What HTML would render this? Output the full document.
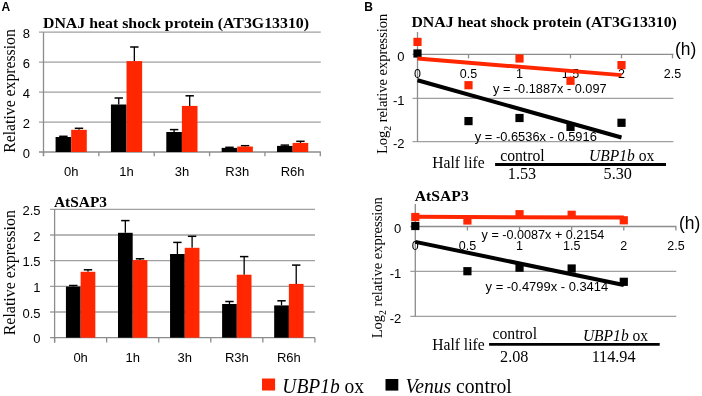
<!DOCTYPE html>
<html><head><meta charset="utf-8"><style>
html,body{margin:0;padding:0;background:#fff;}
body{width:702px;height:396px;overflow:hidden;}
svg{display:block;filter:blur(0.3px);}
</style></head><body>
<svg width="702" height="396" viewBox="0 0 702 396">
<rect width="702" height="396" fill="#fff"/>
<text x="1.60" y="10.80" font-family="'Liberation Sans', sans-serif" font-size="12" text-anchor="start" font-weight="bold" font-style="normal" fill="#000">A</text>
<text x="364.20" y="10.80" font-family="'Liberation Sans', sans-serif" font-size="12" text-anchor="start" font-weight="bold" font-style="normal" fill="#000">B</text>
<line x1="39.00" y1="32.20" x2="320.80" y2="32.20" stroke="#A0A0A0" stroke-width="1.3"/>
<line x1="39.00" y1="62.20" x2="320.80" y2="62.20" stroke="#A0A0A0" stroke-width="1.3"/>
<line x1="39.00" y1="92.20" x2="320.80" y2="92.20" stroke="#A0A0A0" stroke-width="1.3"/>
<line x1="39.00" y1="122.20" x2="320.80" y2="122.20" stroke="#A0A0A0" stroke-width="1.3"/>
<line x1="39.00" y1="152.00" x2="320.80" y2="152.00" stroke="#8C8C8C" stroke-width="1.3"/>
<line x1="43.50" y1="32.20" x2="43.50" y2="156.20" stroke="#8C8C8C" stroke-width="1.3"/>
<line x1="43.50" y1="152.00" x2="43.50" y2="156.20" stroke="#8C8C8C" stroke-width="1.3"/>
<line x1="98.86" y1="152.00" x2="98.86" y2="156.20" stroke="#8C8C8C" stroke-width="1.3"/>
<line x1="154.22" y1="152.00" x2="154.22" y2="156.20" stroke="#8C8C8C" stroke-width="1.3"/>
<line x1="209.58" y1="152.00" x2="209.58" y2="156.20" stroke="#8C8C8C" stroke-width="1.3"/>
<line x1="264.94" y1="152.00" x2="264.94" y2="156.20" stroke="#8C8C8C" stroke-width="1.3"/>
<line x1="320.30" y1="152.00" x2="320.30" y2="156.20" stroke="#8C8C8C" stroke-width="1.3"/>
<text x="30.00" y="37.80" font-family="'Liberation Sans', sans-serif" font-size="13" text-anchor="end" font-weight="normal" font-style="normal" fill="#000">8</text>
<text x="30.00" y="67.80" font-family="'Liberation Sans', sans-serif" font-size="13" text-anchor="end" font-weight="normal" font-style="normal" fill="#000">6</text>
<text x="30.00" y="97.80" font-family="'Liberation Sans', sans-serif" font-size="13" text-anchor="end" font-weight="normal" font-style="normal" fill="#000">4</text>
<text x="30.00" y="127.80" font-family="'Liberation Sans', sans-serif" font-size="13" text-anchor="end" font-weight="normal" font-style="normal" fill="#000">2</text>
<text x="30.00" y="157.60" font-family="'Liberation Sans', sans-serif" font-size="13" text-anchor="end" font-weight="normal" font-style="normal" fill="#000">0</text>
<line x1="63.38" y1="137.00" x2="63.38" y2="136.30" stroke="#000000" stroke-width="1.3"/>
<line x1="59.18" y1="136.30" x2="67.58" y2="136.30" stroke="#000000" stroke-width="1.5"/>
<rect x="55.58" y="137.00" width="15.60" height="15.00" fill="#000000"/>
<line x1="78.98" y1="129.80" x2="78.98" y2="128.30" stroke="#000000" stroke-width="1.3"/>
<line x1="74.78" y1="128.30" x2="83.18" y2="128.30" stroke="#000000" stroke-width="1.5"/>
<rect x="71.18" y="129.80" width="15.60" height="22.20" fill="#FF2600"/>
<text x="71.18" y="176.20" font-family="'Liberation Sans', sans-serif" font-size="13" text-anchor="middle" font-weight="normal" font-style="normal" fill="#000">0h</text>
<line x1="118.74" y1="104.50" x2="118.74" y2="98.00" stroke="#000000" stroke-width="1.3"/>
<line x1="114.54" y1="98.00" x2="122.94" y2="98.00" stroke="#000000" stroke-width="1.5"/>
<rect x="110.94" y="104.50" width="15.60" height="47.50" fill="#000000"/>
<line x1="134.34" y1="61.10" x2="134.34" y2="47.00" stroke="#000000" stroke-width="1.3"/>
<line x1="130.14" y1="47.00" x2="138.54" y2="47.00" stroke="#000000" stroke-width="1.5"/>
<rect x="126.54" y="61.10" width="15.60" height="90.90" fill="#FF2600"/>
<text x="126.54" y="176.20" font-family="'Liberation Sans', sans-serif" font-size="13" text-anchor="middle" font-weight="normal" font-style="normal" fill="#000">1h</text>
<line x1="174.10" y1="132.00" x2="174.10" y2="129.60" stroke="#000000" stroke-width="1.3"/>
<line x1="169.90" y1="129.60" x2="178.30" y2="129.60" stroke="#000000" stroke-width="1.5"/>
<rect x="166.30" y="132.00" width="15.60" height="20.00" fill="#000000"/>
<line x1="189.70" y1="105.90" x2="189.70" y2="95.80" stroke="#000000" stroke-width="1.3"/>
<line x1="185.50" y1="95.80" x2="193.90" y2="95.80" stroke="#000000" stroke-width="1.5"/>
<rect x="181.90" y="105.90" width="15.60" height="46.10" fill="#FF2600"/>
<text x="181.90" y="176.20" font-family="'Liberation Sans', sans-serif" font-size="13" text-anchor="middle" font-weight="normal" font-style="normal" fill="#000">3h</text>
<line x1="229.46" y1="147.90" x2="229.46" y2="147.30" stroke="#000000" stroke-width="1.3"/>
<line x1="225.26" y1="147.30" x2="233.66" y2="147.30" stroke="#000000" stroke-width="1.5"/>
<rect x="221.66" y="147.90" width="15.60" height="4.10" fill="#000000"/>
<line x1="245.06" y1="146.50" x2="245.06" y2="145.70" stroke="#000000" stroke-width="1.3"/>
<line x1="240.86" y1="145.70" x2="249.26" y2="145.70" stroke="#000000" stroke-width="1.5"/>
<rect x="237.26" y="146.50" width="15.60" height="5.50" fill="#FF2600"/>
<text x="237.26" y="176.20" font-family="'Liberation Sans', sans-serif" font-size="13" text-anchor="middle" font-weight="normal" font-style="normal" fill="#000">R3h</text>
<line x1="284.82" y1="145.90" x2="284.82" y2="145.10" stroke="#000000" stroke-width="1.3"/>
<line x1="280.62" y1="145.10" x2="289.02" y2="145.10" stroke="#000000" stroke-width="1.5"/>
<rect x="277.02" y="145.90" width="15.60" height="6.10" fill="#000000"/>
<line x1="300.42" y1="142.90" x2="300.42" y2="141.30" stroke="#000000" stroke-width="1.3"/>
<line x1="296.22" y1="141.30" x2="304.62" y2="141.30" stroke="#000000" stroke-width="1.5"/>
<rect x="292.62" y="142.90" width="15.60" height="9.10" fill="#FF2600"/>
<text x="292.62" y="176.20" font-family="'Liberation Sans', sans-serif" font-size="13" text-anchor="middle" font-weight="normal" font-style="normal" fill="#000">R6h</text>
<text x="43.00" y="27.60" font-family="'Liberation Serif', serif" font-size="15" text-anchor="start" font-weight="bold" font-style="normal" fill="#000" textLength="266.0" lengthAdjust="spacingAndGlyphs">DNAJ heat shock protein (AT3G13310)</text>
<text transform="translate(15.3,152.7) rotate(-90)" font-family="'Liberation Serif', serif" font-size="16" textLength="123.5" lengthAdjust="spacingAndGlyphs">Relative expression</text>
<line x1="50.10" y1="209.30" x2="315.00" y2="209.30" stroke="#A0A0A0" stroke-width="1.3"/>
<line x1="50.10" y1="235.00" x2="315.00" y2="235.00" stroke="#A0A0A0" stroke-width="1.3"/>
<line x1="50.10" y1="260.70" x2="315.00" y2="260.70" stroke="#A0A0A0" stroke-width="1.3"/>
<line x1="50.10" y1="286.40" x2="315.00" y2="286.40" stroke="#A0A0A0" stroke-width="1.3"/>
<line x1="50.10" y1="312.00" x2="315.00" y2="312.00" stroke="#A0A0A0" stroke-width="1.3"/>
<line x1="50.10" y1="337.70" x2="315.00" y2="337.70" stroke="#8C8C8C" stroke-width="1.3"/>
<line x1="54.60" y1="209.30" x2="54.60" y2="342.60" stroke="#8C8C8C" stroke-width="1.3"/>
<line x1="54.60" y1="337.70" x2="54.60" y2="342.60" stroke="#8C8C8C" stroke-width="1.3"/>
<line x1="106.66" y1="337.70" x2="106.66" y2="342.60" stroke="#8C8C8C" stroke-width="1.3"/>
<line x1="158.72" y1="337.70" x2="158.72" y2="342.60" stroke="#8C8C8C" stroke-width="1.3"/>
<line x1="210.78" y1="337.70" x2="210.78" y2="342.60" stroke="#8C8C8C" stroke-width="1.3"/>
<line x1="262.84" y1="337.70" x2="262.84" y2="342.60" stroke="#8C8C8C" stroke-width="1.3"/>
<line x1="314.90" y1="337.70" x2="314.90" y2="342.60" stroke="#8C8C8C" stroke-width="1.3"/>
<text x="40.60" y="214.90" font-family="'Liberation Sans', sans-serif" font-size="13" text-anchor="end" font-weight="normal" font-style="normal" fill="#000">2.5</text>
<text x="40.60" y="240.60" font-family="'Liberation Sans', sans-serif" font-size="13" text-anchor="end" font-weight="normal" font-style="normal" fill="#000">2</text>
<text x="40.60" y="266.30" font-family="'Liberation Sans', sans-serif" font-size="13" text-anchor="end" font-weight="normal" font-style="normal" fill="#000">1.5</text>
<text x="40.60" y="292.00" font-family="'Liberation Sans', sans-serif" font-size="13" text-anchor="end" font-weight="normal" font-style="normal" fill="#000">1</text>
<text x="40.60" y="317.60" font-family="'Liberation Sans', sans-serif" font-size="13" text-anchor="end" font-weight="normal" font-style="normal" fill="#000">0.5</text>
<text x="40.60" y="343.30" font-family="'Liberation Sans', sans-serif" font-size="13" text-anchor="end" font-weight="normal" font-style="normal" fill="#000">0</text>
<line x1="73.28" y1="286.60" x2="73.28" y2="285.50" stroke="#000000" stroke-width="1.3"/>
<line x1="69.08" y1="285.50" x2="77.48" y2="285.50" stroke="#000000" stroke-width="1.5"/>
<rect x="65.93" y="286.60" width="14.70" height="51.10" fill="#000000"/>
<line x1="87.98" y1="271.80" x2="87.98" y2="269.80" stroke="#000000" stroke-width="1.3"/>
<line x1="83.78" y1="269.80" x2="92.18" y2="269.80" stroke="#000000" stroke-width="1.5"/>
<rect x="80.63" y="271.80" width="14.70" height="65.90" fill="#FF2600"/>
<text x="80.63" y="362.10" font-family="'Liberation Sans', sans-serif" font-size="13" text-anchor="middle" font-weight="normal" font-style="normal" fill="#000">0h</text>
<line x1="125.34" y1="232.80" x2="125.34" y2="220.60" stroke="#000000" stroke-width="1.3"/>
<line x1="121.14" y1="220.60" x2="129.54" y2="220.60" stroke="#000000" stroke-width="1.5"/>
<rect x="117.99" y="232.80" width="14.70" height="104.90" fill="#000000"/>
<line x1="140.04" y1="260.10" x2="140.04" y2="258.80" stroke="#000000" stroke-width="1.3"/>
<line x1="135.84" y1="258.80" x2="144.24" y2="258.80" stroke="#000000" stroke-width="1.5"/>
<rect x="132.69" y="260.10" width="14.70" height="77.60" fill="#FF2600"/>
<text x="132.69" y="362.10" font-family="'Liberation Sans', sans-serif" font-size="13" text-anchor="middle" font-weight="normal" font-style="normal" fill="#000">1h</text>
<line x1="177.40" y1="254.00" x2="177.40" y2="242.40" stroke="#000000" stroke-width="1.3"/>
<line x1="173.20" y1="242.40" x2="181.60" y2="242.40" stroke="#000000" stroke-width="1.5"/>
<rect x="170.05" y="254.00" width="14.70" height="83.70" fill="#000000"/>
<line x1="192.10" y1="247.80" x2="192.10" y2="236.30" stroke="#000000" stroke-width="1.3"/>
<line x1="187.90" y1="236.30" x2="196.30" y2="236.30" stroke="#000000" stroke-width="1.5"/>
<rect x="184.75" y="247.80" width="14.70" height="89.90" fill="#FF2600"/>
<text x="184.75" y="362.10" font-family="'Liberation Sans', sans-serif" font-size="13" text-anchor="middle" font-weight="normal" font-style="normal" fill="#000">3h</text>
<line x1="229.46" y1="304.00" x2="229.46" y2="301.50" stroke="#000000" stroke-width="1.3"/>
<line x1="225.26" y1="301.50" x2="233.66" y2="301.50" stroke="#000000" stroke-width="1.5"/>
<rect x="222.11" y="304.00" width="14.70" height="33.70" fill="#000000"/>
<line x1="244.16" y1="274.70" x2="244.16" y2="256.60" stroke="#000000" stroke-width="1.3"/>
<line x1="239.96" y1="256.60" x2="248.36" y2="256.60" stroke="#000000" stroke-width="1.5"/>
<rect x="236.81" y="274.70" width="14.70" height="63.00" fill="#FF2600"/>
<text x="236.81" y="362.10" font-family="'Liberation Sans', sans-serif" font-size="13" text-anchor="middle" font-weight="normal" font-style="normal" fill="#000">R3h</text>
<line x1="281.52" y1="305.40" x2="281.52" y2="300.80" stroke="#000000" stroke-width="1.3"/>
<line x1="277.32" y1="300.80" x2="285.72" y2="300.80" stroke="#000000" stroke-width="1.5"/>
<rect x="274.17" y="305.40" width="14.70" height="32.30" fill="#000000"/>
<line x1="296.22" y1="283.90" x2="296.22" y2="265.10" stroke="#000000" stroke-width="1.3"/>
<line x1="292.02" y1="265.10" x2="300.42" y2="265.10" stroke="#000000" stroke-width="1.5"/>
<rect x="288.87" y="283.90" width="14.70" height="53.80" fill="#FF2600"/>
<text x="288.87" y="362.10" font-family="'Liberation Sans', sans-serif" font-size="13" text-anchor="middle" font-weight="normal" font-style="normal" fill="#000">R6h</text>
<text x="54.00" y="206.50" font-family="'Liberation Serif', serif" font-size="13.6" text-anchor="start" font-weight="bold" font-style="normal" fill="#000" textLength="53.0" lengthAdjust="spacingAndGlyphs">AtSAP3</text>
<text transform="translate(14.9,335.3) rotate(-90)" font-family="'Liberation Serif', serif" font-size="16" textLength="125.2" lengthAdjust="spacingAndGlyphs">Relative expression</text>
<line x1="412.50" y1="98.30" x2="673.40" y2="98.30" stroke="#A0A0A0" stroke-width="1.3"/>
<line x1="412.50" y1="141.60" x2="673.40" y2="141.60" stroke="#A0A0A0" stroke-width="1.3"/>
<line x1="412.50" y1="54.35" x2="673.40" y2="54.35" stroke="#8C8C8C" stroke-width="1.3"/>
<line x1="417.50" y1="32.00" x2="417.50" y2="141.60" stroke="#8C8C8C" stroke-width="1.3"/>
<line x1="468.50" y1="54.35" x2="468.50" y2="58.35" stroke="#8C8C8C" stroke-width="1.3"/>
<line x1="519.50" y1="54.35" x2="519.50" y2="58.35" stroke="#8C8C8C" stroke-width="1.3"/>
<line x1="570.50" y1="54.35" x2="570.50" y2="58.35" stroke="#8C8C8C" stroke-width="1.3"/>
<line x1="621.50" y1="54.35" x2="621.50" y2="58.35" stroke="#8C8C8C" stroke-width="1.3"/>
<line x1="672.50" y1="54.35" x2="672.50" y2="58.35" stroke="#8C8C8C" stroke-width="1.3"/>
<text x="404.50" y="60.95" font-family="'Liberation Sans', sans-serif" font-size="13" text-anchor="end" font-weight="normal" font-style="normal" fill="#000">0</text>
<text x="404.50" y="104.90" font-family="'Liberation Sans', sans-serif" font-size="13" text-anchor="end" font-weight="normal" font-style="normal" fill="#000">-1</text>
<text x="404.50" y="148.20" font-family="'Liberation Sans', sans-serif" font-size="13" text-anchor="end" font-weight="normal" font-style="normal" fill="#000">-2</text>
<text x="417.50" y="77.90" font-family="'Liberation Sans', sans-serif" font-size="12.5" text-anchor="middle" font-weight="normal" font-style="normal" fill="#000">0</text>
<text x="468.50" y="77.90" font-family="'Liberation Sans', sans-serif" font-size="12.5" text-anchor="middle" font-weight="normal" font-style="normal" fill="#000">0.5</text>
<text x="519.50" y="77.90" font-family="'Liberation Sans', sans-serif" font-size="12.5" text-anchor="middle" font-weight="normal" font-style="normal" fill="#000">1</text>
<text x="570.50" y="77.90" font-family="'Liberation Sans', sans-serif" font-size="12.5" text-anchor="middle" font-weight="normal" font-style="normal" fill="#000">1.5</text>
<text x="621.50" y="77.90" font-family="'Liberation Sans', sans-serif" font-size="12.5" text-anchor="middle" font-weight="normal" font-style="normal" fill="#000">2</text>
<text x="672.50" y="77.90" font-family="'Liberation Sans', sans-serif" font-size="12.5" text-anchor="middle" font-weight="normal" font-style="normal" fill="#000">2.5</text>
<rect x="413.40" y="37.80" width="8.20" height="8.20" fill="#FF2600"/>
<rect x="464.40" y="81.10" width="8.20" height="8.20" fill="#FF2600"/>
<rect x="515.40" y="54.40" width="8.20" height="8.20" fill="#FF2600"/>
<rect x="566.40" y="76.70" width="8.20" height="8.20" fill="#FF2600"/>
<rect x="617.40" y="61.00" width="8.20" height="8.20" fill="#FF2600"/>
<rect x="413.40" y="49.40" width="8.20" height="8.20" fill="#000000"/>
<rect x="464.40" y="117.00" width="8.20" height="8.20" fill="#000000"/>
<rect x="515.40" y="113.90" width="8.20" height="8.20" fill="#000000"/>
<rect x="566.40" y="122.80" width="8.20" height="8.20" fill="#000000"/>
<rect x="617.40" y="118.70" width="8.20" height="8.20" fill="#000000"/>
<line x1="417.50" y1="80.26" x2="621.50" y2="137.52" stroke="#000000" stroke-width="4"/>
<line x1="417.50" y1="58.60" x2="621.50" y2="75.13" stroke="#FF2600" stroke-width="4"/>
<text x="493.00" y="93.30" font-family="'Liberation Sans', sans-serif" font-size="12.3" text-anchor="start" font-weight="normal" font-style="normal" fill="#000" textLength="113.6" lengthAdjust="spacingAndGlyphs">y = -0.1887x - 0.097</text>
<text x="474.80" y="141.00" font-family="'Liberation Sans', sans-serif" font-size="12.3" text-anchor="start" font-weight="normal" font-style="normal" fill="#000" textLength="122.0" lengthAdjust="spacingAndGlyphs">y = -0.6536x - 0.5916</text>
<text x="675.00" y="55.20" font-family="'Liberation Sans', sans-serif" font-size="18.2" text-anchor="start" font-weight="normal" font-style="normal" fill="#000" textLength="21.3" lengthAdjust="spacingAndGlyphs">(h)</text>
<text x="411.40" y="26.60" font-family="'Liberation Serif', serif" font-size="15" text-anchor="start" font-weight="bold" font-style="normal" fill="#000" textLength="265.5" lengthAdjust="spacingAndGlyphs">DNAJ heat shock protein (AT3G13310)</text>
<text transform="translate(387.1,154.0) rotate(-90)" font-family="'Liberation Serif', serif" font-size="14.3" textLength="140.3" lengthAdjust="spacingAndGlyphs">Log<tspan font-size="9.5" dy="3.5">2</tspan><tspan dy="-3.5"> relative expression</tspan></text>
<text x="432.20" y="167.90" font-family="'Liberation Serif', serif" font-size="17" text-anchor="start" font-weight="normal" font-style="normal" fill="#000" textLength="52.5" lengthAdjust="spacingAndGlyphs">Half life</text>
<line x1="495.10" y1="164.50" x2="666.00" y2="164.50" stroke="#000000" stroke-width="2.8"/>
<text x="500.20" y="160.50" font-family="'Liberation Serif', serif" font-size="16.2" text-anchor="start" font-weight="normal" font-style="normal" fill="#000" textLength="44.5" lengthAdjust="spacingAndGlyphs">control</text>
<text x="589.1" y="160.5" font-family="'Liberation Serif', serif" font-size="16.5" textLength="65.2" lengthAdjust="spacingAndGlyphs"><tspan font-style="italic">UBP1b</tspan> ox</text>
<text x="522.00" y="179.20" font-family="'Liberation Serif', serif" font-size="16.2" text-anchor="middle" font-weight="normal" font-style="normal" fill="#000">1.53</text>
<text x="617.70" y="179.20" font-family="'Liberation Serif', serif" font-size="16.2" text-anchor="middle" font-weight="normal" font-style="normal" fill="#000">5.30</text>
<line x1="410.30" y1="271.40" x2="676.30" y2="271.40" stroke="#A0A0A0" stroke-width="1.3"/>
<line x1="410.30" y1="316.40" x2="676.30" y2="316.40" stroke="#A0A0A0" stroke-width="1.3"/>
<line x1="410.30" y1="226.50" x2="676.30" y2="226.50" stroke="#8C8C8C" stroke-width="1.3"/>
<line x1="415.30" y1="203.90" x2="415.30" y2="316.40" stroke="#8C8C8C" stroke-width="1.3"/>
<line x1="467.42" y1="226.50" x2="467.42" y2="230.50" stroke="#8C8C8C" stroke-width="1.3"/>
<line x1="519.54" y1="226.50" x2="519.54" y2="230.50" stroke="#8C8C8C" stroke-width="1.3"/>
<line x1="571.66" y1="226.50" x2="571.66" y2="230.50" stroke="#8C8C8C" stroke-width="1.3"/>
<line x1="623.78" y1="226.50" x2="623.78" y2="230.50" stroke="#8C8C8C" stroke-width="1.3"/>
<line x1="675.90" y1="226.50" x2="675.90" y2="230.50" stroke="#8C8C8C" stroke-width="1.3"/>
<text x="401.30" y="233.10" font-family="'Liberation Sans', sans-serif" font-size="13" text-anchor="end" font-weight="normal" font-style="normal" fill="#000">0</text>
<text x="401.30" y="278.00" font-family="'Liberation Sans', sans-serif" font-size="13" text-anchor="end" font-weight="normal" font-style="normal" fill="#000">-1</text>
<text x="401.30" y="323.00" font-family="'Liberation Sans', sans-serif" font-size="13" text-anchor="end" font-weight="normal" font-style="normal" fill="#000">-2</text>
<text x="415.30" y="249.60" font-family="'Liberation Sans', sans-serif" font-size="12.5" text-anchor="middle" font-weight="normal" font-style="normal" fill="#000">0</text>
<text x="467.42" y="249.60" font-family="'Liberation Sans', sans-serif" font-size="12.5" text-anchor="middle" font-weight="normal" font-style="normal" fill="#000">0.5</text>
<text x="519.54" y="249.60" font-family="'Liberation Sans', sans-serif" font-size="12.5" text-anchor="middle" font-weight="normal" font-style="normal" fill="#000">1</text>
<text x="571.66" y="249.60" font-family="'Liberation Sans', sans-serif" font-size="12.5" text-anchor="middle" font-weight="normal" font-style="normal" fill="#000">1.5</text>
<text x="623.78" y="249.60" font-family="'Liberation Sans', sans-serif" font-size="12.5" text-anchor="middle" font-weight="normal" font-style="normal" fill="#000">2</text>
<text x="675.90" y="249.60" font-family="'Liberation Sans', sans-serif" font-size="12.5" text-anchor="middle" font-weight="normal" font-style="normal" fill="#000">2.5</text>
<rect x="411.20" y="212.90" width="8.20" height="8.20" fill="#FF2600"/>
<rect x="463.32" y="216.40" width="8.20" height="8.20" fill="#FF2600"/>
<rect x="515.44" y="210.10" width="8.20" height="8.20" fill="#FF2600"/>
<rect x="567.56" y="210.70" width="8.20" height="8.20" fill="#FF2600"/>
<rect x="619.68" y="216.20" width="8.20" height="8.20" fill="#FF2600"/>
<rect x="411.20" y="221.90" width="8.20" height="8.20" fill="#000000"/>
<rect x="463.32" y="267.10" width="8.20" height="8.20" fill="#000000"/>
<rect x="515.44" y="263.60" width="8.20" height="8.20" fill="#000000"/>
<rect x="567.56" y="264.40" width="8.20" height="8.20" fill="#000000"/>
<rect x="619.68" y="277.70" width="8.20" height="8.20" fill="#000000"/>
<line x1="415.30" y1="241.86" x2="623.78" y2="285.05" stroke="#000000" stroke-width="4"/>
<line x1="415.30" y1="216.81" x2="623.78" y2="217.59" stroke="#FF2600" stroke-width="4"/>
<text x="481.60" y="238.80" font-family="'Liberation Sans', sans-serif" font-size="12.3" text-anchor="start" font-weight="normal" font-style="normal" fill="#000" textLength="122.8" lengthAdjust="spacingAndGlyphs">y = -0.0087x + 0.2154</text>
<text x="485.60" y="291.00" font-family="'Liberation Sans', sans-serif" font-size="12.3" text-anchor="start" font-weight="normal" font-style="normal" fill="#000" textLength="122.6" lengthAdjust="spacingAndGlyphs">y = -0.4799x - 0.3414</text>
<text x="679.00" y="228.60" font-family="'Liberation Sans', sans-serif" font-size="18.2" text-anchor="start" font-weight="normal" font-style="normal" fill="#000" textLength="21.3" lengthAdjust="spacingAndGlyphs">(h)</text>
<text x="414.80" y="201.30" font-family="'Liberation Serif', serif" font-size="14" text-anchor="start" font-weight="bold" font-style="normal" fill="#000" textLength="54.0" lengthAdjust="spacingAndGlyphs">AtSAP3</text>
<text transform="translate(382.3,338.3) rotate(-90)" font-family="'Liberation Serif', serif" font-size="14.3" textLength="141.2" lengthAdjust="spacingAndGlyphs">Log<tspan font-size="9.5" dy="3.5">2</tspan><tspan dy="-3.5"> relative expression</tspan></text>
<text x="432.20" y="350.40" font-family="'Liberation Serif', serif" font-size="17" text-anchor="start" font-weight="normal" font-style="normal" fill="#000" textLength="52.5" lengthAdjust="spacingAndGlyphs">Half life</text>
<line x1="489.10" y1="344.40" x2="659.70" y2="344.40" stroke="#000000" stroke-width="2.8"/>
<text x="492.50" y="338.90" font-family="'Liberation Serif', serif" font-size="16.2" text-anchor="start" font-weight="normal" font-style="normal" fill="#000" textLength="44.5" lengthAdjust="spacingAndGlyphs">control</text>
<text x="582.9" y="340.5" font-family="'Liberation Serif', serif" font-size="16.5" textLength="65.2" lengthAdjust="spacingAndGlyphs"><tspan font-style="italic">UBP1b</tspan> ox</text>
<text x="514.20" y="362.00" font-family="'Liberation Serif', serif" font-size="16.2" text-anchor="middle" font-weight="normal" font-style="normal" fill="#000">2.08</text>
<text x="613.60" y="362.00" font-family="'Liberation Serif', serif" font-size="16.2" text-anchor="middle" font-weight="normal" font-style="normal" fill="#000">114.94</text>
<rect x="262.00" y="378.50" width="13.10" height="12.00" fill="#FF2600"/>
<text x="282.3" y="393.3" font-family="'Liberation Serif', serif" font-size="20.3" textLength="81.8" lengthAdjust="spacingAndGlyphs"><tspan font-style="italic">UBP1b</tspan> ox</text>
<rect x="385.50" y="379.00" width="12.80" height="11.60" fill="#000000"/>
<text x="405.4" y="393.2" font-family="'Liberation Serif', serif" font-size="20" textLength="106.3" lengthAdjust="spacingAndGlyphs"><tspan font-style="italic">Venus</tspan> control</text>
</svg>
</body></html>
